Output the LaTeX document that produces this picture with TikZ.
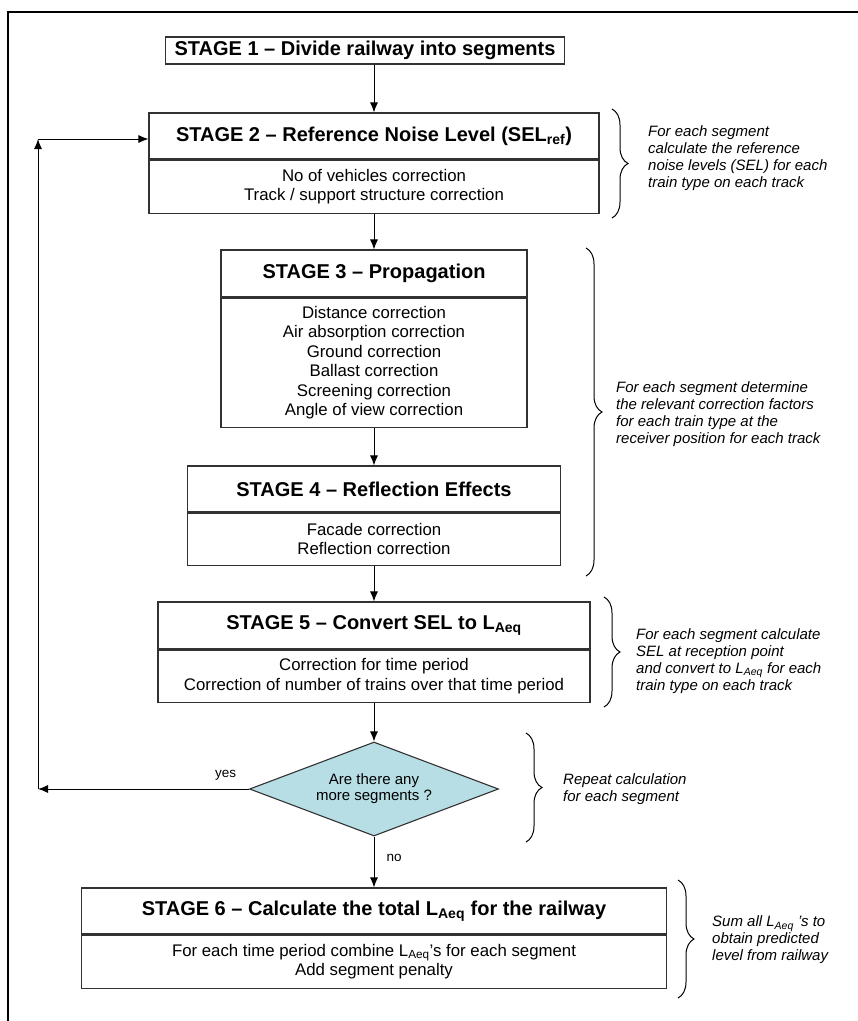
\documentclass[tikz,border=0pt]{standalone}
\usepackage{fontspec}
\setmainfont{Liberation Sans}
\usetikzlibrary{shapes.geometric, arrows.meta, positioning, decorations.pathreplacing}

\definecolor{diafill}{RGB}{183,222,229}
\definecolor{boxline}{RGB}{50,50,50}

\begin{document}
\begin{tikzpicture}[
    x=1pt, y=-1pt,
    stagehead/.style={rectangle, draw=boxline, line width=1.1pt, inner sep=0pt,
        font=\fontsize{20}{23}\selectfont\bfseries},
    stagebody/.style={rectangle, draw=boxline, line width=1.1pt, inner sep=0pt, align=center,
        font=\fontsize{16.8}{19.4}\selectfont},
    decision/.style={diamond, draw=boxline, line width=1.1pt, fill=diafill, inner sep=0pt,
        aspect=2.65, minimum width=249pt, minimum height=94pt, align=center,
        font=\fontsize{15}{16}\selectfont},
    note/.style={anchor=west, inner sep=0pt, align=left, font=\fontsize{15}{17}\selectfont\itshape},
    flowlabel/.style={inner sep=0pt, font=\fontsize{13.5}{16}\selectfont},
    arr/.style={-{Latex[length=10pt,width=8pt]}, line width=1pt},
    curly/.style={decorate, decoration={brace, amplitude=16pt}, line width=1pt},
]
    \useasboundingbox (0,0) rectangle (858,1021);
    \draw[line width=2.6pt] (858,12) -- (8,12) -- (8,1021);

    % flow boxes
    \node[stagehead, minimum width=399pt, minimum height=27pt] (s1) at (365,50.5) {STAGE 1 -- Divide railway into segments};

    \node[stagehead, minimum width=450pt, minimum height=46pt] (s2h) at (374,136) {STAGE 2 -- Reference Noise Level (SEL\textsubscript{ref})};
    \node[stagebody, minimum width=450pt, minimum height=53pt, below=0pt of s2h] (s2b) {No of vehicles correction\\Track / support structure correction};

    \node[stagehead, minimum width=306pt, minimum height=47pt] (s3h) at (374,273.5) {STAGE 3 -- Propagation};
    \node[stagebody, minimum width=306pt, minimum height=129pt, below=0pt of s3h] (s3b) {Distance correction\\Air absorption correction\\Ground correction\\Ballast correction\\Screening correction\\Angle of view correction};

    \node[stagehead, minimum width=373pt, minimum height=46pt] (s4h) at (374,489) {STAGE 4 -- Reflection Effects};
    \node[stagebody, minimum width=373pt, minimum height=52pt, below=0pt of s4h] (s4b) {Facade correction\\Reflection correction};

    \node[stagehead, minimum width=432pt, minimum height=47pt] (s5h) at (374,625.5) {STAGE 5 -- Convert SEL to L\textsubscript{Aeq}};
    \node[stagebody, minimum width=432pt, minimum height=52pt, below=0pt of s5h] (s5b) {Correction for time period\\Correction of number of trains over that time period};

    \node[decision] (dec) at (374,789) {Are there any\\more segments ?};

    \node[stagehead, minimum width=585pt, minimum height=46pt] (s6h) at (374,911) {STAGE 6 -- Calculate the total L\textsubscript{Aeq} for the railway};
    \node[stagebody, minimum width=585pt, minimum height=53pt, below=0pt of s6h] (s6b) {For each time period combine L\textsubscript{Aeq}'s for each segment\\Add segment penalty};

    % connectors
    \draw[arr] (s2h.north |- s1.south) -- (s2h.north);
    \draw[arr] (s2b) -- (s3h);
    \draw[arr] (s3b) -- (s4h);
    \draw[arr] (s4b) -- (s5h);
    \draw[arr] (s5b) -- (dec);
    \draw[arr] (dec) -- node[flowlabel, pos=0.42, right=12pt] {no} (s6h);

    % loop back
    \coordinate (loopbot) at (38,789);
    \coordinate (looptop) at (38,139);
    \draw[arr] (dec.west) -- node[flowlabel, pos=0.11, above=8pt] {yes} (loopbot);
    \draw[arr] (loopbot) -- (looptop);
    \draw[arr] (looptop) -- (looptop -| s2h.west);

    % braces and notes
    \draw[curly] (612,109) -- (612,218);
    \draw[curly] (586,248) -- (586,576);
    \draw[curly] (604,597) -- (604,707);
    \draw[curly] (526,733) -- (526,842);
    \draw[curly] (678,880) -- (678,998);

    \node[note] (n1) at (648,158) {For each segment\\calculate the reference\\noise levels (SEL) for each\\train type on each track};
    \node[note] (n2) at (616,414) {For each segment determine\\the relevant correction factors\\for each train type at the\\receiver position for each track};
    \node[note] (n3) at (636,661) {For each segment calculate\\SEL at reception point\\and convert to L\textsubscript{Aeq} for each\\train type on each track};
    \node[note] (n4) at (563,789) {Repeat calculation\\for each segment};
    \node[note] (n5) at (712,940) {Sum all L\textsubscript{Aeq} 's to\\obtain predicted\\level from railway};
\end{tikzpicture}
\end{document}
